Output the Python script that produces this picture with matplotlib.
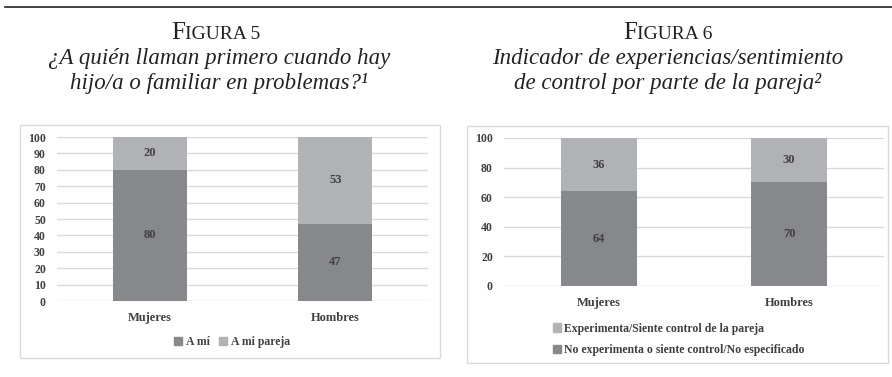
import numpy as np
import matplotlib
matplotlib.use("Agg")
import matplotlib.pyplot as plt
from matplotlib.patches import Rectangle, Patch
from matplotlib.lines import Line2D

# datos de las dos figuras
categorias = ["Mujeres", "Hombres"]

fig5_a_mi = [80, 47]
fig5_pareja = [20, 53]
fig5_leyenda = ["A mí", "A mi pareja"]

fig6_no_control = [64, 70]
fig6_control = [36, 30]
fig6_leyenda = ["Experimenta/Siente control de la pareja",
                "No experimenta o siente control/No especificado"]

W, H = 892, 377
OSCURO = "#87888b"
CLARO = "#b1b2b5"
TEXTO = "#404040"
CHART_FONT = "Liberation Serif"


def px_rect(x0, y0, x1, y1):
    # pixeles (origen arriba-izquierda) -> fraccion de figura
    return [x0 / W, (H - y1) / H, (x1 - x0) / W, (y1 - y0) / H]


fig = plt.figure(figsize=(W / 100, H / 100), dpi=100)
fig.patch.set_facecolor("white")

# linea superior
fig.add_artist(Line2D([5 / W, 1], [1 - 7 / H, 1 - 7 / H], color="#222222", lw=1.2))

# marcos de los graficos
for (x0, y0, x1, y1) in [(20, 125, 440, 358), (467, 126, 888, 363)]:
    r = px_rect(x0, y0, x1, y1)
    fig.add_artist(Rectangle((r[0], r[1]), r[2], r[3], transform=fig.transFigure,
                             fill=False, ec="#d9d9d9", lw=1.0))

renderer = fig.canvas.get_renderer()


def small_caps_title(xc, y, big, rest, size=18):
    t1 = fig.text(0, 0, big, fontsize=size, family="Liberation Serif", color="#222222")
    t2 = fig.text(0, 0, rest, fontsize=size * 0.78, family="Liberation Serif", color="#222222")
    w1 = t1.get_window_extent(renderer).width
    w2 = t2.get_window_extent(renderer).width
    x0 = xc - (w1 + w2) / 2
    t1.set_position((x0 / W, 1 - y / H))
    t2.set_position(((x0 + w1) / W, 1 - y / H))
    t1.set_va("baseline")
    t2.set_va("baseline")


small_caps_title(216, 39, "F", "IGURA 5")
small_caps_title(668, 39, "F", "IGURA 6")

tit_kw = dict(fontsize=16.5, family="Liberation Serif", style="italic", color="#222222",
              ha="center", va="baseline")
fig.text(219 / W, 1 - 64 / H, "¿A quién llaman primero cuando hay", **tit_kw)
fig.text(219 / W, 1 - 89 / H, "hijo/a o familiar en problemas?¹", **tit_kw)
fig.text(668 / W, 1 - 64 / H, "Indicador de experiencias/sentimiento", **tit_kw)
fig.text(668 / W, 1 - 89 / H, "de control por parte de la pareja²", **tit_kw)


def barras(ax, abajo, arriba, ticks):
    x = np.arange(len(categorias))
    ax.bar(x, abajo, width=0.4, color=OSCURO, zorder=3)
    ax.bar(x, arriba, width=0.4, bottom=abajo, color=CLARO, zorder=3)
    for i in range(len(categorias)):
        ax.text(x[i], abajo[i] / 2, str(abajo[i]), ha="center", va="center",
                fontsize=9, family=CHART_FONT, weight="bold", color=TEXTO, zorder=4)
        ax.text(x[i], abajo[i] + arriba[i] / 2, str(arriba[i]), ha="center", va="center",
                fontsize=9, family=CHART_FONT, weight="bold", color=TEXTO, zorder=4)
    ax.set_xlim(-0.5, len(categorias) - 0.5)
    ax.set_ylim(0, 100)
    ax.set_yticks(ticks)
    ax.yaxis.grid(True, color="#d9d9d9", lw=1.0, zorder=0)
    for s in ax.spines.values():
        s.set_visible(False)
    ax.tick_params(length=0)
    ax.set_xticks(x)
    ax.set_xticklabels(categorias)
    for lab in ax.get_xticklabels() + ax.get_yticklabels():
        lab.set_fontfamily(CHART_FONT)
        lab.set_fontweight("bold")
        lab.set_color(TEXTO)
        lab.set_fontsize(8.5)
    for lab in ax.get_xticklabels():
        lab.set_fontsize(9)
    ax.tick_params(axis="y", pad=8)
    ax.tick_params(axis="x", pad=8)


ax1 = fig.add_axes(px_rect(57, 137, 428, 301))
barras(ax1, fig5_a_mi, fig5_pareja, np.arange(0, 101, 10))
h1 = [Patch(color=OSCURO), Patch(color=CLARO)]
ax1.legend(h1, fig5_leyenda, loc="center", bbox_to_anchor=(232 / W, 1 - 342 / H),
           bbox_transform=fig.transFigure, ncol=2, frameon=False,
           prop={"family": CHART_FONT, "weight": "bold", "size": 8.5},
           handlelength=0.7, handleheight=0.7, handletextpad=0.3, columnspacing=0.8,
           labelcolor=TEXTO)

ax2 = fig.add_axes(px_rect(504, 138, 884, 286))
barras(ax2, fig6_no_control, fig6_control, np.arange(0, 101, 20))
h2 = [Patch(color=CLARO), Patch(color=OSCURO)]
ax2.legend(h2, fig6_leyenda, loc="upper left", bbox_to_anchor=(542 / W, 1 - 312 / H),
           bbox_transform=fig.transFigure, ncol=1, frameon=False,
           prop={"family": CHART_FONT, "weight": "bold", "size": 8.5},
           handlelength=0.7, handleheight=0.7, handletextpad=0.3, labelspacing=0.8,
           labelcolor=TEXTO)

fig.savefig("out.png", dpi=100)
